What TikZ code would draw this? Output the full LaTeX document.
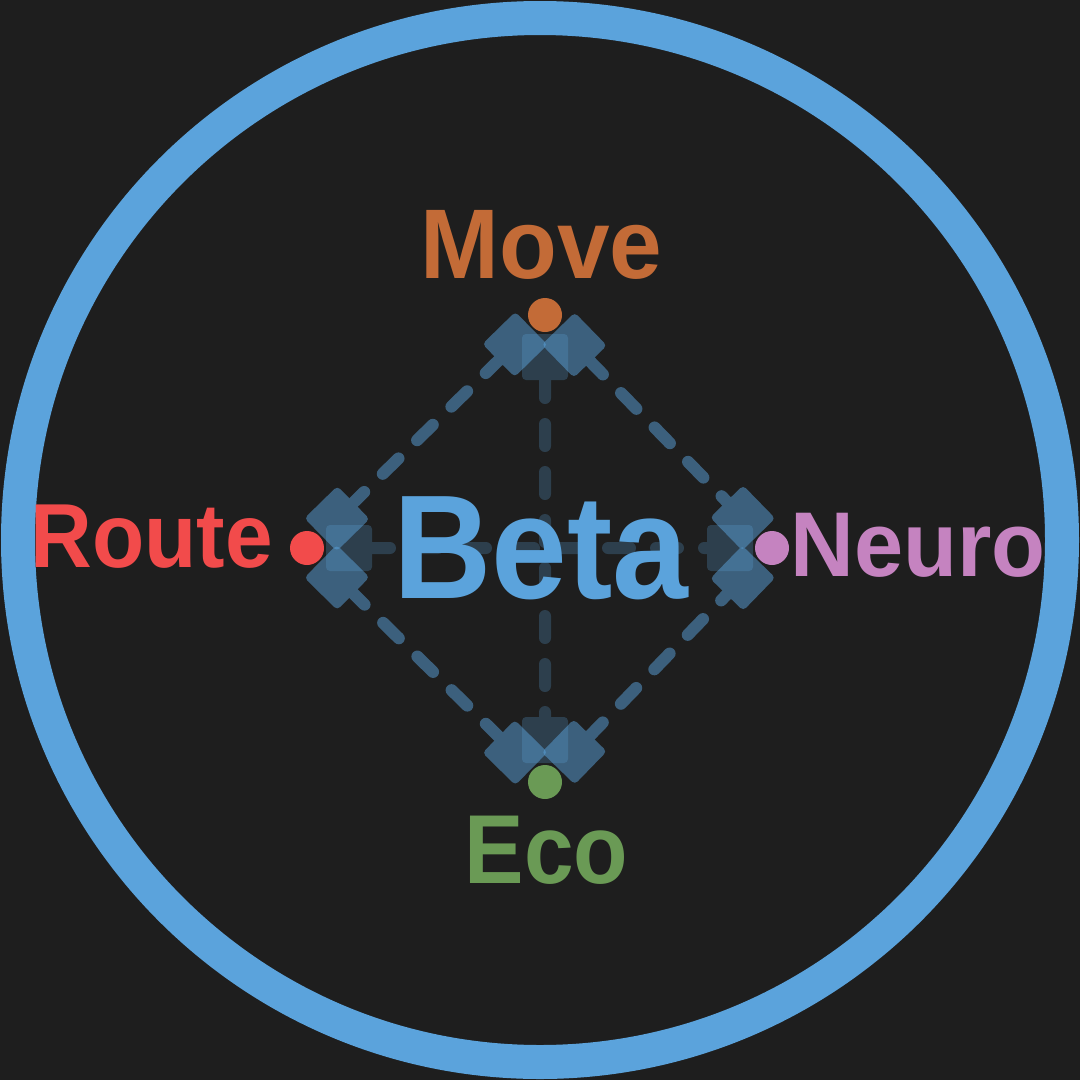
\documentclass[tikz,border=0pt]{standalone}
\usepackage{fontspec}
\setmainfont{Liberation Sans}
\usetikzlibrary{arrows.meta}
\definecolor{bg}{HTML}{1E1E1E}
\definecolor{beta}{HTML}{5BA3DC}
\definecolor{cmove}{HTML}{C36B37}
\definecolor{croute}{HTML}{F24B4B}
\definecolor{cneuro}{HTML}{C583C0}
\definecolor{ceco}{HTML}{6A9A55}
\pgfdeclarelayer{back}
\pgfdeclarelayer{edges}
\pgfsetlayers{back,edges,main}
\tikzset{
  dot/.style={circle, minimum size=34pt, inner sep=0pt, outer sep=2pt},
  lbl/.style={inner sep=0pt, anchor=base},
  tipsq/.tip={Square[length=46pt,width=46pt,line width=8pt,round]},
  edgeline/.style={draw=beta, line width=12pt, line cap=round,
    dash pattern=on 22pt off 26pt, tipsq-tipsq},
  diag/.style={transparency group, opacity=0.5},
  cross/.style={transparency group, opacity=0.25},
}
\begin{document}
\begin{tikzpicture}[x=1pt,y=-1pt]
\begin{pgfonlayer}{back}
\fill[bg] (0,0) rectangle (1080,1080);
\draw[beta, line width=34pt] (540,540) circle[radius=522pt];
\end{pgfonlayer}
\useasboundingbox (0,0) rectangle (1080,1080);

\node[dot, fill=cmove]  (pm) at (545,315) {};
\node[dot, fill=croute] (pr) at (307,548) {};
\node[dot, fill=cneuro] (pn) at (772,548) {};
\node[dot, fill=ceco]   (pe) at (545,782) {};

\begin{pgfonlayer}{edges}
\begin{scope}[cross]\draw[edgeline] (pm) -- (pe);\end{scope}
\begin{scope}[cross]\draw[edgeline] (pr) -- (pn);\end{scope}
\begin{scope}[diag]\draw[edgeline] (pm) -- (pr);\end{scope}
\begin{scope}[diag]\draw[edgeline] (pm) -- (pn);\end{scope}
\begin{scope}[diag]\draw[edgeline] (pe) -- (pr);\end{scope}
\begin{scope}[diag]\draw[edgeline] (pe) -- (pn);\end{scope}
\end{pgfonlayer}

\node[lbl, text=beta, font=\bfseries\fontsize{148}{148}\selectfont] (beta) at (541,598) {\scalebox{0.92}[1]{Beta}};
\node[lbl, text=cmove, font=\bfseries\fontsize{99}{99}\selectfont] (move) at (541.5,278) {\scalebox{0.955}[1]{Move}};
\node[lbl, text=croute, font=\bfseries\fontsize{91}{91}\selectfont] (route) at (151.5,567) {\scalebox{0.94}[1]{Route}};
\node[lbl, text=cneuro, font=\bfseries\fontsize{92}{92}\selectfont] (neuro) at (918,576) {\scalebox{0.96}[1]{Neuro}};
\node[lbl, text=ceco, font=\bfseries\fontsize{98}{98}\selectfont] (eco) at (546.5,883) {\scalebox{0.91}[1]{Eco}};
\end{tikzpicture}
\end{document}
